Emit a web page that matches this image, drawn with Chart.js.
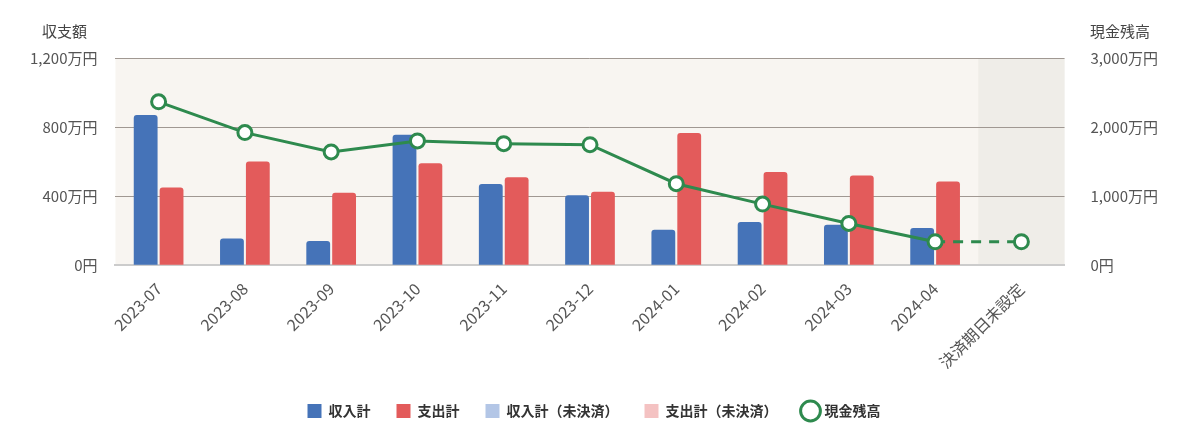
<!DOCTYPE html>
<html><head><meta charset="utf-8">
<script src="https://cdn.jsdelivr.net/npm/chart.js@4"></script>
<style>
body{margin:0;background:#fff;font-family:"Noto Sans CJK JP",sans-serif;}
#wrap{position:relative;width:1200px;height:442px;}
.ttl{position:absolute;top:20px;font-size:15px;color:#444;}
</style></head><body>
<div id="wrap">
<div class="ttl" style="left:42px">収支額</div>
<div class="ttl" style="left:1090px">現金残高</div>
<canvas id="c" width="1200" height="442"></canvas>
</div>
<script>
const labels = ['2023-07','2023-08','2023-09','2023-10','2023-11','2023-12','2024-01','2024-02','2024-03','2024-04','決済期日未設定'];
const income = [870,155,140,755,470,405,205,250,235,215,null];
const expense = [450,600,420,590,510,425,765,540,520,485,null];
const incomeUnsettled = [0,0,0,0,0,0,0,0,0,0,0];
const expenseUnsettled = [0,0,0,0,0,0,0,0,0,0,0];
const balance = [2365,1920,1640,1800,1760,1745,1180,885,605,340,340];
const leftTicks = [0,400,800,1200];
const rightTicks = [0,1000,2000,3000];

const fmt = v => v === 0 ? '0円' : v.toLocaleString('en-US') + '万円';

const bgPlugin = {
  id: 'bg',
  beforeDraw(chart) {
    const {ctx, chartArea: a} = chart;
    ctx.save();
    ctx.fillStyle = '#f8f5f1';
    ctx.fillRect(a.left, a.top, a.right - a.left, a.bottom - a.top);
    const w = (a.right - a.left) / labels.length;
    ctx.fillStyle = '#efede8';
    ctx.fillRect(a.right - w, a.top, w, a.bottom - a.top);
    ctx.restore();
  }
};

Chart.defaults.font.family = '"Noto Sans CJK JP", sans-serif';
new Chart(document.getElementById('c'), {
  data: {
    labels,
    datasets: [
      {type:'line', label:'現金残高', data: balance, yAxisID:'y2', borderColor:'#2e8a4e', borderWidth:3,
       pointRadius:7, pointBorderWidth:3, pointBackgroundColor:'#fff', pointBorderColor:'#2e8a4e', order:0,
       segment:{borderDash: c => c.p1DataIndex === labels.length - 1 ? [10,8] : undefined}},
      {type:'bar', label:'収入計', data: income, backgroundColor:'#4573b8', stack:'in', borderRadius:3, order:1},
      {type:'bar', label:'支出計', data: expense, backgroundColor:'#e35b5b', stack:'out', borderRadius:3, order:1},
      {type:'bar', label:'収入計（未決済）', data: incomeUnsettled, backgroundColor:'#b3c6e6', stack:'in', order:1},
      {type:'bar', label:'支出計（未決済）', data: expenseUnsettled, backgroundColor:'#f4c2c2', stack:'out', order:1}
    ]
  },
  plugins: [bgPlugin],
  options: {
    responsive:false, animation:false,
    layout:{padding:{top:58,left:12,right:24,bottom:14}},
    datasets:{bar:{categoryPercentage:0.6, barPercentage:0.92}},
    plugins:{
      legend:{position:'bottom', labels:{
        color:'#333', font:{size:14, weight:'bold'}, boxWidth:14, boxHeight:14, padding:26, usePointStyle:true,
        generateLabels(chart){
          const items = Chart.defaults.plugins.legend.labels.generateLabels(chart);
          const line = items.shift();
          line.pointStyle = 'circle'; line.fillStyle = '#fff'; line.lineWidth = 3;
          items.forEach(i => { i.pointStyle = 'rect'; i.lineWidth = 0; });
          items.push(line);
          return items;
        }}},
      tooltip:{enabled:false}
    },
    scales:{
      x:{stacked:true, grid:{display:false}, border:{color:'#ccc', width:2},
         ticks:{color:'#555', font:{size:16}, maxRotation:45, minRotation:45, padding:6}},
      y:{min:0, max:1200, position:'left', afterBuildTicks: s => { s.ticks = leftTicks.map(v => ({value:v})); },
         grid:{color:'#a09892', drawTicks:false}, border:{display:false},
         ticks:{color:'#555', font:{size:15}, padding:18, callback: fmt}},
      y2:{min:0, max:3000, position:'right', afterBuildTicks: s => { s.ticks = rightTicks.map(v => ({value:v})); },
         grid:{display:false}, border:{display:false},
         ticks:{color:'#555', font:{size:15}, padding:18, callback: fmt}}
    }
  }
});
</script></body></html>
